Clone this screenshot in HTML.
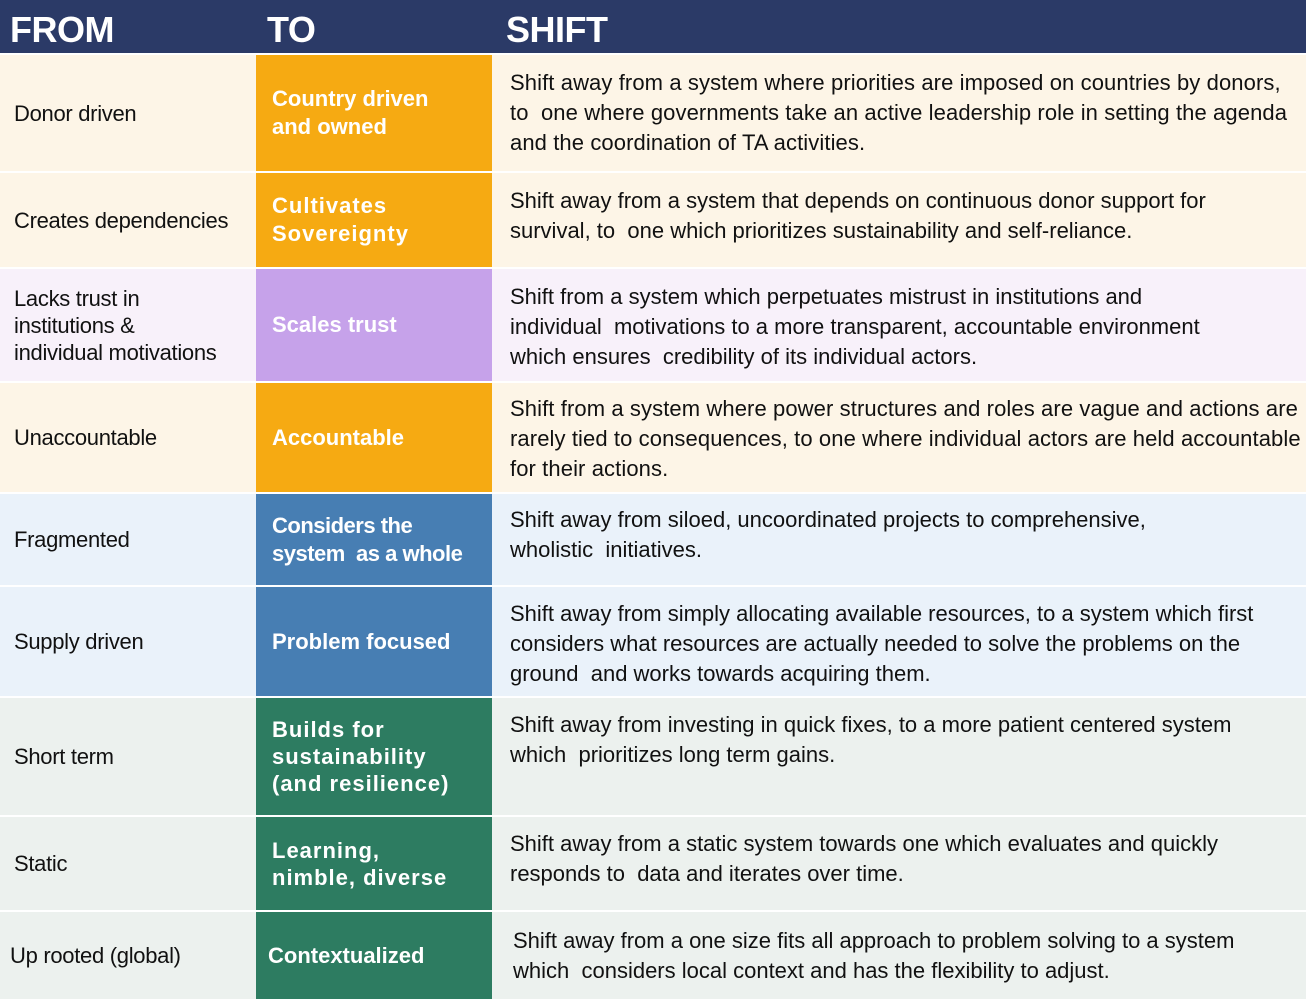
<!DOCTYPE html><html><head><style>
body{margin:0;width:1306px;height:999px;position:relative;background:#fff;font-family:"Liberation Sans",sans-serif;overflow:hidden}
.h{position:absolute;top:0;left:0;width:1306px;height:53px;background:#2b3a67}
.h span{position:absolute;top:9px;color:#fff;font-size:36px;font-weight:bold;letter-spacing:-0.5px}
.r{position:absolute;left:0;width:1306px}
.c{position:absolute;display:flex;align-items:center;box-sizing:border-box;white-space:nowrap}
.f{left:0;width:255px;padding-left:14px;font-size:22px;color:#111;line-height:27px;letter-spacing:-0.3px}
.t{left:256px;width:236px;padding-left:16px;font-size:22px;font-weight:bold;color:#fff;line-height:28px}
.s{left:494px;width:812px;padding-left:16px;font-size:22px;color:#111;line-height:30px;letter-spacing:0;align-items:flex-start;padding-top:13px}
</style></head><body>
<div class="h"><span style="left:10px">FROM</span><span style="left:267px">TO</span><span style="left:506px">SHIFT</span></div>

<div class="r" style="top:55px;height:116px;background:#fdf5e7">
<div class="c f" style="height:116px">Donor driven</div>
<div class="c t" style="height:116px;background:#f6aa12">Country driven<br>and owned</div>
<div class="c s" style="height:116px;letter-spacing:0.1px">Shift away from a system where priorities are imposed on countries by donors,<br>to&nbsp; one where governments take an active leadership role in setting the agenda<br>and the coordination of TA activities.</div></div>

<div class="r" style="top:173px;height:94px;background:#fdf5e7">
<div class="c f" style="height:94px">Creates dependencies</div>
<div class="c t" style="height:94px;background:#f6aa12;letter-spacing:1px">Cultivates<br>Sovereignty</div>
<div class="c s" style="height:94px">Shift away from a system that depends on continuous donor support for<br>survival, to&nbsp; one which prioritizes sustainability and self-reliance.</div></div>

<div class="r" style="top:269px;height:112px;background:#f8f1fa">
<div class="c f" style="height:112px">Lacks trust in<br>institutions &amp;<br>individual motivations</div>
<div class="c t" style="height:112px;background:#c6a2ea">Scales trust</div>
<div class="c s" style="height:112px">Shift from a system which perpetuates mistrust in institutions and<br>individual&nbsp; motivations to a more transparent, accountable environment<br>which ensures&nbsp; credibility of its individual actors.</div></div>

<div class="r" style="top:383px;height:109px;background:#fdf5e7">
<div class="c f" style="height:109px">Unaccountable</div>
<div class="c t" style="height:109px;background:#f6aa12">Accountable</div>
<div class="c s" style="height:109px;padding-top:11px;letter-spacing:0.1px">Shift from a system where power structures and roles are vague and actions are<br>rarely tied to consequences, to one where individual actors are held accountable<br>for their actions.</div></div>

<div class="r" style="top:494px;height:91px;background:#eaf2fa">
<div class="c f" style="height:91px">Fragmented</div>
<div class="c t" style="height:91px;background:#477eb3;letter-spacing:-0.5px">Considers the<br>system&nbsp; as a whole</div>
<div class="c s" style="height:91px;padding-top:11px">Shift away from siloed, uncoordinated projects to comprehensive,<br>wholistic&nbsp; initiatives.</div></div>

<div class="r" style="top:587px;height:109px;background:#eaf2fa">
<div class="c f" style="height:109px">Supply driven</div>
<div class="c t" style="height:109px;background:#477eb3">Problem focused</div>
<div class="c s" style="height:109px;padding-top:12px">Shift away from simply allocating available resources, to a system which first<br>considers what resources are actually needed to solve the problems on the<br>ground&nbsp; and works towards acquiring them.</div></div>

<div class="r" style="top:698px;height:117px;background:#ecf1ee">
<div class="c f" style="height:117px">Short term</div>
<div class="c t" style="height:117px;background:#2d7c61;letter-spacing:1px;line-height:27px">Builds for<br>sustainability<br>(and resilience)</div>
<div class="c s" style="height:117px;padding-top:12px">Shift away from investing in quick fixes, to a more patient centered system<br>which&nbsp; prioritizes long term gains.</div></div>

<div class="r" style="top:817px;height:93px;background:#ecf1ee">
<div class="c f" style="height:93px">Static</div>
<div class="c t" style="height:93px;background:#2d7c61;letter-spacing:1px;line-height:27px">Learning,<br>nimble, diverse</div>
<div class="c s" style="height:93px;padding-top:12px">Shift away from a static system towards one which evaluates and quickly<br>responds to&nbsp; data and iterates over time.</div></div>

<div class="r" style="top:912px;height:87px;background:#ecf1ee">
<div class="c f" style="height:87px;padding-left:10px">Up rooted (global)</div>
<div class="c t" style="height:87px;background:#2d7c61;padding-left:12px">Contextualized</div>
<div class="c s" style="height:87px;padding-left:19px;padding-top:14px">Shift away from a one size fits all approach to problem solving to a system<br>which&nbsp; considers local context and has the flexibility to adjust.</div></div>
</body></html>
